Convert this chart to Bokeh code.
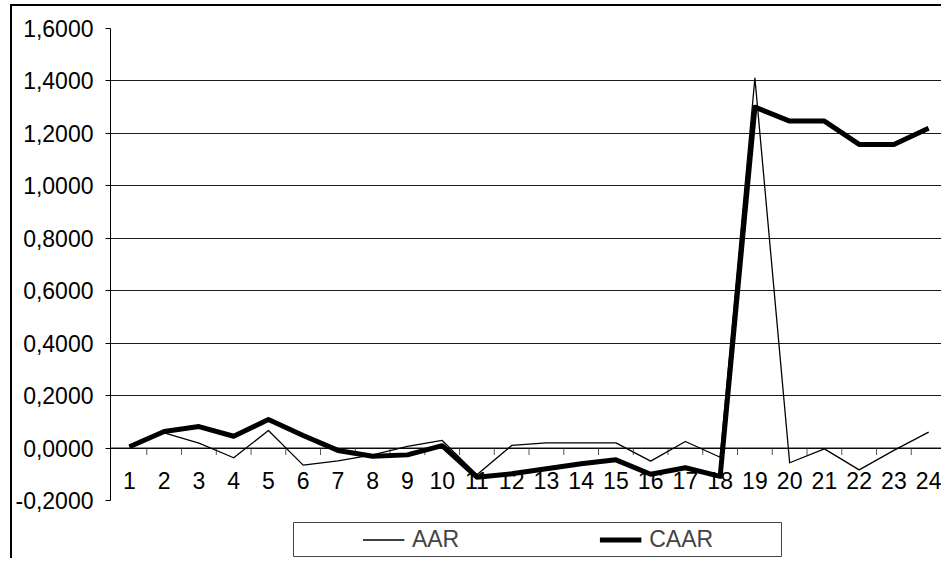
import math
from bokeh.plotting import figure
from bokeh.models import Range1d, FixedTicker, Legend, LegendItem, Span, Spacer
from bokeh.layouts import column, row
from bokeh.core.properties import value
from bokeh.embed import file_html
from bokeh.resources import INLINE

# ---- data ----
days = list(range(1, 25))
day_labels = [str(d) for d in days]
aar = [0.005, 0.058, 0.019, -0.037, 0.067, -0.065, -0.049, -0.026, 0.006, 0.029,
       -0.102, 0.010, 0.020, 0.020, 0.020, -0.050, 0.025, -0.035, 1.411, -0.056,
       -0.003, -0.083, -0.009, 0.061]
caar = [0.005, 0.063, 0.082, 0.045, 0.109, 0.048, -0.009, -0.031, -0.026, 0.009,
        -0.111, -0.098, -0.079, -0.060, -0.045, -0.100, -0.075, -0.108, 1.300, 1.247,
        1.247, 1.158, 1.158, 1.220]
y_ticks = [-0.2, 0.0, 0.2, 0.4, 0.6, 0.8, 1.0, 1.2, 1.4, 1.6]
y_tick_labels = ["-0,2000", "0,0000", "0,2000", "0,4000", "0,6000", "0,8000",
                 "1,0000", "1,2000", "1,4000", "1,6000"]
series_names = ["AAR", "CAAR"]

FONT = "Liberation Sans"
FS = "23px"

p = figure(width=929, height=509, x_range=Range1d(0.455, 24.37), y_range=Range1d(-0.2, 1.6),
           toolbar_location=None, output_backend="svg", x_axis_location=None,
           min_border_left=96, min_border_right=0, min_border_top=22, min_border_bottom=15)
p.outline_line_color = None
p.background_fill_color = "white"
p.border_fill_color = "white"

# y axis
p.yaxis.ticker = FixedTicker(ticks=y_ticks)
p.yaxis.major_label_overrides = dict(zip(y_ticks, y_tick_labels))
p.yaxis.axis_line_color = "black"
p.yaxis.major_tick_line_color = "black"
p.yaxis.major_tick_out = 5
p.yaxis.major_tick_in = 0
p.yaxis.minor_tick_line_color = None
p.yaxis.major_label_standoff = 12
p.yaxis.major_label_text_font = FONT
p.yaxis.major_label_text_font_size = FS
p.yaxis.major_label_text_color = "black"

p.xgrid.visible = False
p.ygrid.ticker = FixedTicker(ticks=y_ticks)
p.ygrid.grid_line_color = "#1a1a1a"
p.ygrid.grid_line_width = 1

# x axis drawn at y = 0
p.add_layout(Span(location=0, dimension="width", line_color="black", line_width=1))
bounds = [d + 0.5 for d in days[:-1]]
p.ray(x=bounds, y=[0] * len(bounds), length=7, length_units="screen",
      angle=-math.pi / 2, line_color="#555555", line_width=1)
p.text(x=days, y=[0] * len(days), text=day_labels, text_align="center",
       text_baseline="middle", y_offset=32, text_font=value(FONT),
       text_font_size=value(FS), text_color="black")

# series
p.line(days, aar, line_color="black", line_width=1.3, line_join="round")
p.line(days, caar, line_color="black", line_width=5, line_join="round")

# legend box as its own small figure
leg = figure(width=489, height=43, x_range=Range1d(0, 1), y_range=Range1d(0, 1),
             toolbar_location=None, output_backend="svg",
             x_axis_location=None, y_axis_location=None,
             min_border_left=0, min_border_right=0, min_border_top=7, min_border_bottom=2)
leg.grid.visible = False
leg.outline_line_color = "#444444"
leg.outline_line_width = 1
nan = float("nan")
r1 = leg.line(x=[nan], y=[nan], line_color="black", line_width=1.3)
r2 = leg.line(x=[nan], y=[nan], line_color="black", line_width=5)
legend = Legend(items=[LegendItem(label=series_names[0], renderers=[r1]),
                       LegendItem(label=series_names[1], renderers=[r2])],
                orientation="horizontal", location="center", padding=0, spacing=140,
                glyph_width=42, label_standoff=8, border_line_color=None,
                background_fill_alpha=0, label_text_font=FONT, label_text_font_size=FS,
                margin=0)
leg.add_layout(legend)

layout = column(p, row(Spacer(width=281, height=43), leg), spacing=0,
                styles={"border-left": "2px solid black", "border-top": "2px solid black",
                        "margin-left": "10px", "margin-top": "4px"})

open("out.html", "w").write(file_html(layout, INLINE))
